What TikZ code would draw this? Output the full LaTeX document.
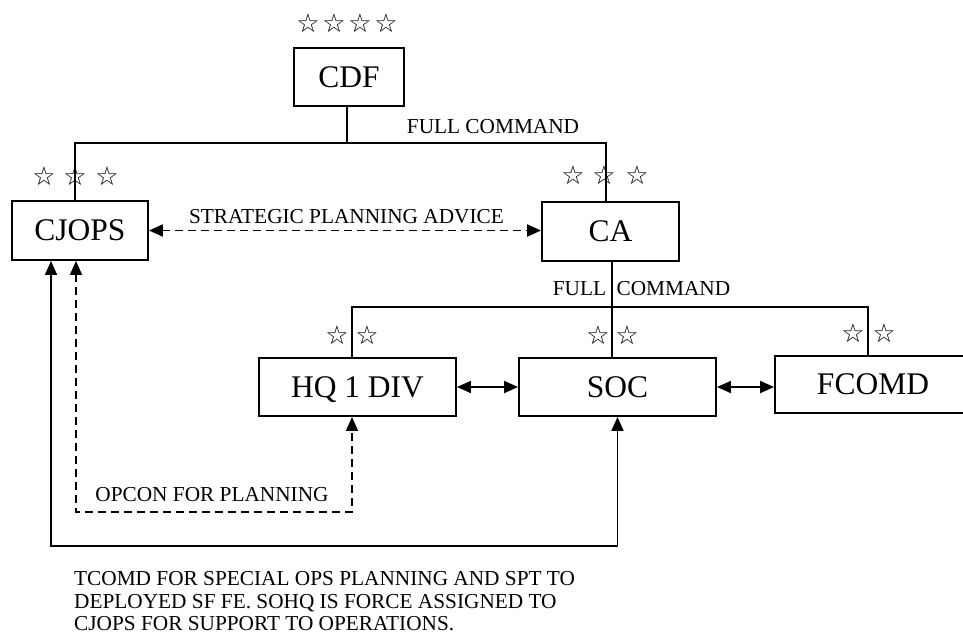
\documentclass[tikz,border=0pt]{standalone}
\usepackage{fontspec}
\setmainfont{Liberation Serif}
\newfontfamily\starfont{DejaVu Sans}
\usetikzlibrary{arrows.meta}

\tikzset{
  unit/.style={draw, line width=1.9pt, minimum height=58pt, inner sep=0pt,
    text depth=0pt, font=\fontsize{31.5}{36}\selectfont},
  link/.style={line width=1.9pt},
  dashlink/.style={line width=1.9pt, dash pattern=on 8pt off 5pt},
  lbl/.style={inner sep=0pt, font=\fontsize{21.3}{22.5}\selectfont},
  rank/.style={inner sep=0pt, font=\starfont\bfseries\fontsize{26}{26}\selectfont},
}

\begin{document}
\begin{tikzpicture}[x=1pt, y=-1pt, >={Triangle[length=14pt,width=12pt]}]
\useasboundingbox (0,0) rectangle (963,637);

% 指挥单元
\node[unit, minimum width=110pt] (cdf) at (349,77) {CDF};
\node[unit, minimum width=136pt, minimum height=59pt] (cjops) at (80,230.5) {CJOPS};
\node[unit, minimum width=137pt, minimum height=59pt] (ca) at (610.5,231.5) {CA};
\node[unit, minimum width=197pt] (hq) at (357.5,387) {HQ 1 DIV};
\node[unit, minimum width=197pt] (soc) at (617.5,387) {SOC};
\node[unit, minimum width=196pt, minimum height=57pt] (fcomd) at (873,384.5) {FCOMD};

% 军衔星
\foreach \sx [count=\i] in {308,334,360,386}
  \node[rank] (cdfstar\i) at (\sx,23) {☆};
\foreach \sx [count=\i] in {44,75,107}
  \node[rank] (cjopsstar\i) at (\sx,176) {☆};
\foreach \sx [count=\i] in {573,604,637}
  \node[rank] (castar\i) at (\sx,175) {☆};
\foreach \sx [count=\i] in {337,367}
  \node[rank] (hqstar\i) at (\sx,335) {☆};
\foreach \sx [count=\i] in {598,627}
  \node[rank] (socstar\i) at (\sx,335) {☆};
\foreach \sx [count=\i] in {853,884}
  \node[rank] (fcomdstar\i) at (\sx,333) {☆};

% CDF 的全面指挥
\coordinate (cmdtop) at (347,143);
\draw[link] ([xshift=-2pt]cdf.south) -- (cmdtop);
\draw[link] ([xshift=-5pt]cjops.north) |- (cmdtop) -| ([xshift=-4.5pt]ca.north);
\node[lbl] (fullcmdtop) at (493,127) {FULL COMMAND};

% CA 的全面指挥
\coordinate (cmdmid) at (612,307);
\draw[link] ([xshift=1.5pt]ca.south) -- ([xshift=-5.5pt]soc.north);
\draw[link] ([xshift=-5.5pt]hq.north) |- (cmdmid) -| ([xshift=-5pt]fcomd.north);
\node[lbl] (fullcmdmid) at (641.5,289) {FULL\hspace{0.49em}COMMAND};

% 战略规划建议
\draw[dashlink, <->] (cjops.east) -- (cjops.east -| ca.west);
\node[lbl] (advice) at (346.5,217) {STRATEGIC PLANNING ADVICE};

% 同级联系
\draw[link, <->] (hq.east) -- (soc.west);
\draw[link, <->] (soc.east) -- (soc.east -| fcomd.west);

% 规划作战控制
\coordinate (opcon) at (212,512);
\draw[dashlink, <->] ([xshift=-4pt]cjops.south) |- (opcon) -| ([xshift=-5.5pt]hq.south);
\node[lbl] (opconlbl) at (212,495) {OPCON FOR PLANNING};

% 战术指挥
\coordinate (tcomd) at (330,546);
\draw[link, <->] ([xshift=-29pt]cjops.south) |- (tcomd) -| (soc.south);

% 说明文字
\node[lbl, anchor=base west] (note1) at (74,585) {TCOMD FOR SPECIAL OPS PLANNING AND SPT TO};
\node[lbl, anchor=base west] (note2) at (74,608) {DEPLOYED SF FE. SOHQ IS FORCE ASSIGNED TO};
\node[lbl, anchor=base west] (note3) at (74,630) {CJOPS FOR SUPPORT TO OPERATIONS.};

\end{tikzpicture}
\end{document}
